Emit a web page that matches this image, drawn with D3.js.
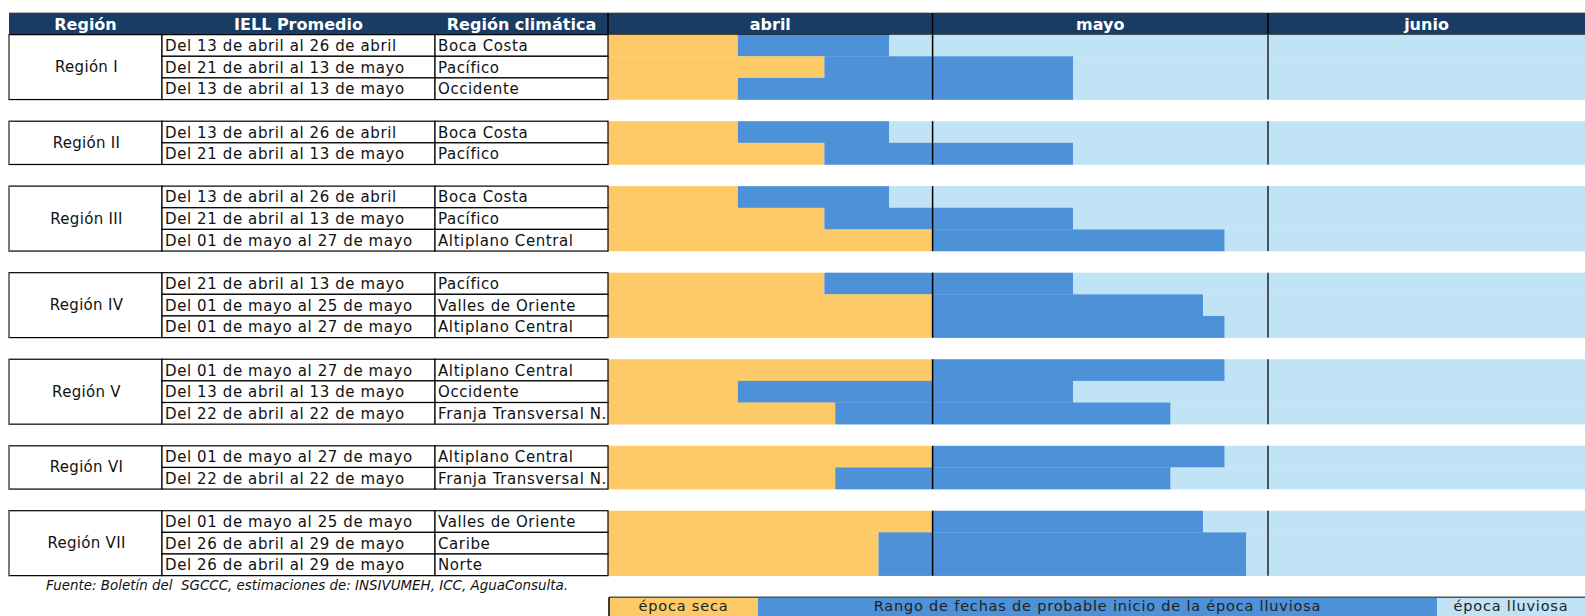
<!DOCTYPE html>
<html><head><meta charset="utf-8">
<script src="https://cdn.jsdelivr.net/npm/d3@7"></script>
<style>body{margin:0;background:#fff}svg{display:block}text{font-family:"DejaVu Sans",sans-serif}</style>
</head><body><svg id="c" width="1585" height="616"></svg>
<script>
const headerLabels = ["Región", "IELL Promedio", "Región climática"];
const months = ["abril", "mayo", "junio"];
const monthStarts = ["2024-04-01", "2024-05-01", "2024-06-01"];
const regionNames = ["Región I", "Región II", "Región III", "Región IV", "Región V", "Región VI", "Región VII"];
const regionSizes = [3, 2, 3, 3, 3, 2, 3];
const periodLabels = [
  "Del 13 de abril al 26 de abril", "Del 21 de abril al 13 de mayo", "Del 13 de abril al 13 de mayo",
  "Del 13 de abril al 26 de abril", "Del 21 de abril al 13 de mayo",
  "Del 13 de abril al 26 de abril", "Del 21 de abril al 13 de mayo", "Del 01 de mayo al 27 de mayo",
  "Del 21 de abril al 13 de mayo", "Del 01 de mayo al 25 de mayo", "Del 01 de mayo al 27 de mayo",
  "Del 01 de mayo al 27 de mayo", "Del 13 de abril al 13 de mayo", "Del 22 de abril al 22 de mayo",
  "Del 01 de mayo al 27 de mayo", "Del 22 de abril al 22 de mayo",
  "Del 01 de mayo al 25 de mayo", "Del 26 de abril al 29 de mayo", "Del 26 de abril al 29 de mayo"
];
const climateRegions = [
  "Boca Costa", "Pacífico", "Occidente",
  "Boca Costa", "Pacífico",
  "Boca Costa", "Pacífico", "Altiplano Central",
  "Pacífico", "Valles de Oriente", "Altiplano Central",
  "Altiplano Central", "Occidente", "Franja Transversal N.",
  "Altiplano Central", "Franja Transversal N.",
  "Valles de Oriente", "Caribe", "Norte"
];
const startDates = [
  "2024-04-13", "2024-04-21", "2024-04-13",
  "2024-04-13", "2024-04-21",
  "2024-04-13", "2024-04-21", "2024-05-01",
  "2024-04-21", "2024-05-01", "2024-05-01",
  "2024-05-01", "2024-04-13", "2024-04-22",
  "2024-05-01", "2024-04-22",
  "2024-05-01", "2024-04-26", "2024-04-26"
];
const endDates = [
  "2024-04-26", "2024-05-13", "2024-05-13",
  "2024-04-26", "2024-05-13",
  "2024-04-26", "2024-05-13", "2024-05-27",
  "2024-05-13", "2024-05-25", "2024-05-27",
  "2024-05-27", "2024-05-13", "2024-05-22",
  "2024-05-27", "2024-05-22",
  "2024-05-25", "2024-05-29", "2024-05-29"
];
const legendLabels = ["época seca", "Rango de fechas de probable inicio de la época lluviosa", "época lluviosa"];
const sourceNote = "Fuente: Boletín del  SGCCC, estimaciones de: INSIVUMEH, ICC, AguaConsulta.";

const C = {head: "#183C64", dry: "#FECA67", range: "#4D91D9", wet: "#C0E3F5"};
const parse = d3.timeParse("%Y-%m-%d");
const svg = d3.select("#c");
const W = 1585;
const colX = [9, 162, 435, 608];
const rowH = 21.64;
const y = d3.scaleLinear().domain([0, 28]).range([13, 13 + 28 * rowH]);
const x = d3.scaleTime().domain([parse("2024-04-01"), parse("2024-07-01")]).range([608, 1592.6]);
const chartEnd = parse("2024-07-01");

const rows = [];
const groups = [];
let slot = 1, k = 0;
regionNames.forEach((name, g) => {
  const first = slot;
  for (let i = 0; i < regionSizes[g]; i++) {
    rows.push({slot, period: periodLabels[k], climate: climateRegions[k],
      start: parse(startDates[k]), end: d3.timeDay.offset(parse(endDates[k]), 1)});
    slot++; k++;
  }
  groups.push({name, first, last: slot - 1});
  slot++;
});

// header
svg.append("line").attr("x1", colX[0]).attr("x2", W).attr("y1", y(0) - 0.5).attr("y2", y(0) - 0.5)
  .attr("stroke", "#bbb").attr("stroke-width", 1);
svg.append("rect").attr("x", colX[0]).attr("y", y(0)).attr("width", W - colX[0]).attr("height", y(1) - y(0)).attr("fill", C.head);
const headTxt = svg.append("g").attr("font-weight", "bold").attr("fill", "#fff").attr("font-size", 16)
  .attr("text-anchor", "middle");
headerLabels.forEach((h, i) => {
  headTxt.append("text").attr("x", (colX[i] + colX[i + 1]) / 2).attr("y", (y(0) + y(1)) / 2 + 1)
    .attr("dominant-baseline", "central").text(h);
});
const mEdges = monthStarts.map(parse).concat([chartEnd]);
months.forEach((m, i) => {
  const x0 = x(mEdges[i]), x1 = Math.min(W, x(mEdges[i + 1]));
  headTxt.append("text").attr("x", (x0 + x1) / 2).attr("y", (y(0) + y(1)) / 2 + 1)
    .attr("dominant-baseline", "central").attr("font-size", 16).text(m);
});
svg.append("line").attr("x1", colX[0]).attr("x2", W).attr("y1", y(1)).attr("y2", y(1)).attr("stroke", "#000").attr("stroke-width", 1.5);
[x(mEdges[0]), x(mEdges[1]), x(mEdges[2])].forEach(xx => {
  svg.append("line").attr("x1", xx).attr("x2", xx).attr("y1", y(0)).attr("y2", y(1)).attr("stroke", "#000").attr("stroke-width", 1.5);
});

// bars
const bars = svg.append("g");
rows.forEach(r => {
  const segs = [[mEdges[0], r.start, C.dry], [r.start, r.end, C.range], [r.end, chartEnd, C.wet]];
  segs.forEach(([a, b, c]) => {
    bars.append("rect").attr("x", x(a)).attr("y", y(r.slot)).attr("width", Math.max(0, x(b) - x(a)))
      .attr("height", y(r.slot + 1) - y(r.slot) + 0.3).attr("fill", c);
  });
});
groups.forEach(g => {
  [mEdges[1], mEdges[2]].forEach((d, i) => {
    svg.append("line").attr("x1", x(d)).attr("x2", x(d)).attr("y1", y(g.first)).attr("y2", y(g.last + 1))
      .attr("stroke", i === 0 ? "#000" : "#222").attr("stroke-width", 1.5);
  });
});

// table
const tbl = svg.append("g");
groups.forEach(g => {
  tbl.append("rect").attr("x", colX[0]).attr("y", y(g.first)).attr("width", colX[1] - colX[0])
    .attr("height", y(g.last + 1) - y(g.first)).attr("fill", "#fff").attr("stroke", "#000").attr("stroke-width", 1.2);
  tbl.append("text").attr("x", (colX[0] + colX[1]) / 2 + 1).attr("y", (y(g.first) + y(g.last + 1)) / 2)
    .attr("dominant-baseline", "central").attr("text-anchor", "middle").attr("font-size", 15)
    .attr("letter-spacing", 0.3).attr("fill", "#111").text(g.name);
});
rows.forEach(r => {
  [[1, r.period], [2, r.climate]].forEach(([c, t]) => {
    tbl.append("rect").attr("x", colX[c]).attr("y", y(r.slot)).attr("width", colX[c + 1] - colX[c])
      .attr("height", y(r.slot + 1) - y(r.slot)).attr("fill", "#fff").attr("stroke", "#000").attr("stroke-width", 1.2);
    tbl.append("text").attr("x", colX[c] + 3).attr("y", (y(r.slot) + y(r.slot + 1)) / 2 + 0.5)
      .attr("dominant-baseline", "central").attr("font-size", 15).attr("letter-spacing", 0.6)
      .attr("fill", "#111").text(t);
  });
});
groups.forEach(g => {
  tbl.append("line").attr("x1", colX[0]).attr("x2", colX[0]).attr("y1", y(g.first)).attr("y2", y(g.last + 1))
    .attr("stroke", "#888").attr("stroke-width", 1.2);
});

// source
svg.append("text").attr("x", 46).attr("y", (y(26) + y(27)) / 2 - 1).attr("dominant-baseline", "central")
  .attr("font-family", "'Liberation Sans', sans-serif").attr("font-style", "italic").attr("font-size", 13.5)
  .attr("textLength", 522).attr("lengthAdjust", "spacingAndGlyphs")
  .attr("fill", "#111").style("white-space", "pre").text(sourceNote);

// legend
const legX = [609, 758, 1437, W];
const legCols = [C.dry, C.range, C.wet];
const ly0 = y(27), ly1 = 616;
legendLabels.forEach((t, i) => {
  svg.append("rect").attr("x", legX[i]).attr("y", ly0).attr("width", legX[i + 1] - legX[i]).attr("height", ly1 - ly0).attr("fill", legCols[i]);
  svg.append("text").attr("x", (legX[i] + legX[i + 1]) / 2).attr("y", ly0 + 9).attr("dominant-baseline", "central")
    .attr("text-anchor", "middle").attr("font-size", 14.5).attr("letter-spacing", 0.8).attr("fill", "#222").text(t);
});
svg.append("line").attr("x1", legX[0]).attr("x2", W).attr("y1", ly0).attr("y2", ly0).attr("stroke", "#555").attr("stroke-width", 1.5);
svg.append("line").attr("x1", legX[0]).attr("x2", legX[0]).attr("y1", ly0).attr("y2", ly1).attr("stroke", "#000").attr("stroke-width", 1.5);
</script></body></html>
